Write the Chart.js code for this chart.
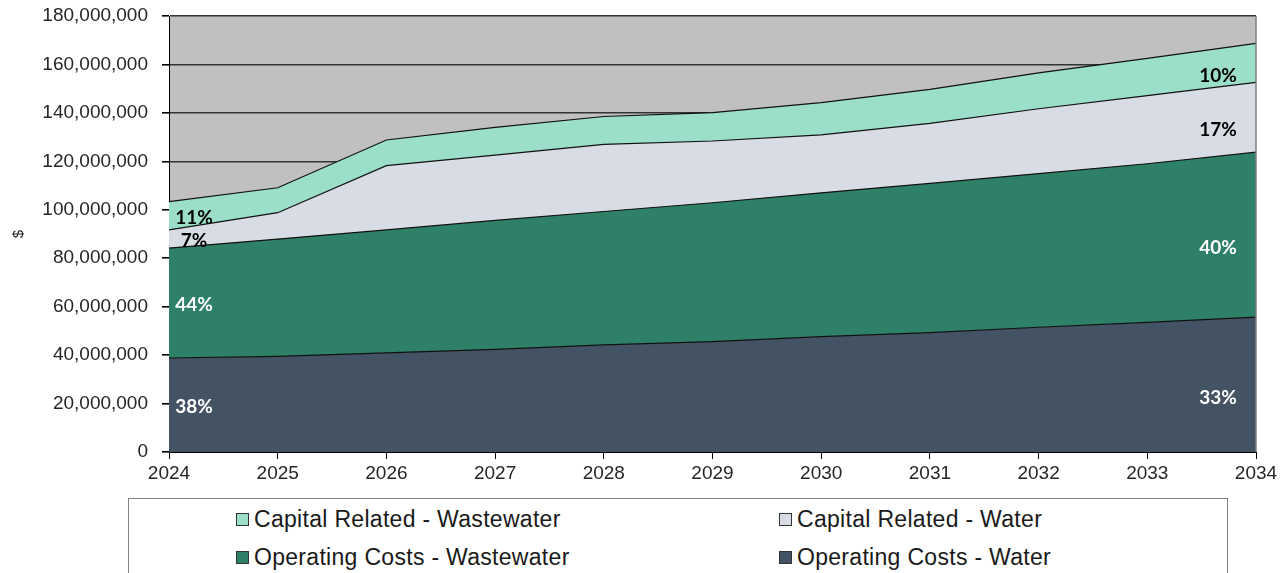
<!DOCTYPE html>
<html>
<head>
<meta charset="utf-8">
<script src="https://cdn.jsdelivr.net/npm/chart.js@4.4.0/dist/chart.umd.min.js"></script>
<style>
  html, body { margin: 0; padding: 0; background: #fff; }
  #wrap { position: relative; width: 1286px; height: 573px; overflow: hidden; }
  #legend {
    position: absolute; left: 128px; top: 498px; width: 1098px; height: 90px;
    border: 1px solid #7f7f7f; background: #fff;
    font-family: 'Liberation Sans', Arial, sans-serif; font-size: 23px; letter-spacing: 0.3px; color: #1a1a1a;
  }
  .item { position: absolute; height: 26px; display: flex; align-items: center; white-space: nowrap; }
  .sw { width: 11px; height: 11px; border: 1px solid #333; margin-right: 5px; }
</style>
</head>
<body>
<div id="wrap">
  <canvas id="costChart" width="1286" height="573"></canvas>
  <div id="legend"></div>
</div>
<script>
const years = ['2024', '2025', '2026', '2027', '2028', '2029', '2030', '2031', '2032', '2033', '2034'];
const opWater = [38800000, 39500000, 40900000, 42400000, 44200000, 45600000, 47600000, 49300000, 51500000, 53500000, 55700000];
const opWastewater = [45400000, 48400000, 50800000, 53200000, 55100000, 57300000, 59400000, 61600000, 63400000, 65500000, 68100000];
const capWater = [7500000, 10900000, 26500000, 27000000, 27700000, 25500000, 23900000, 24800000, 26800000, 28100000, 28800000];
const capWastewater = [11700000, 10300000, 10600000, 11400000, 11500000, 11700000, 13300000, 14000000, 14800000, 15400000, 16100000];
const yTicks = [0, 20000000, 40000000, 60000000, 80000000, 100000000, 120000000, 140000000, 160000000, 180000000];

const series = [
    { label: 'Operating Costs - Water', data: opWater, color: '#435363', text: '#fff' },
    { label: 'Operating Costs - Wastewater', data: opWastewater, color: '#2e8069', text: '#fff' },
    { label: 'Capital Related - Water', data: capWater, color: '#d8dde5', text: '#000' },
    { label: 'Capital Related - Wastewater', data: capWastewater, color: '#9bdeca', text: '#000' }
];

// grey plot area + right border line
const plotBg = {
    id: 'plotBg',
    beforeDraw(chart) {
        const { ctx, chartArea: a } = chart;
        ctx.save();
        ctx.fillStyle = '#c0c0c0';
        ctx.fillRect(a.left, a.top, a.right - a.left, a.bottom - a.top);
        ctx.restore();
    },
    afterDraw(chart) {
        const { ctx, chartArea: a } = chart;
        ctx.save();
        ctx.strokeStyle = '#7f7f7f';
        ctx.lineWidth = 1.5;
        ctx.beginPath();
        ctx.moveTo(a.right, a.top);
        ctx.lineTo(a.right, a.bottom);
        ctx.stroke();
        ctx.restore();
    }
};

// share labels on first and last year
const shareLabels = {
    id: 'shareLabels',
    afterDatasetsDraw(chart) {
        const { ctx, chartArea: a } = chart;
        const n = years.length;
        ctx.save();
        ctx.font = 'bold 19px Lato, "Open Sans", sans-serif';
        ctx.textAlign = 'center';
        ctx.textBaseline = 'middle';
        [[0, 25, 2], [n - 1, -38, 13]].forEach(([i, dx, dy]) => {
            const total = series.reduce((s, d) => s + d.data[i], 0);
            let bottom = a.bottom;
            series.forEach((s, k) => {
                const pt = chart.getDatasetMeta(k).data[i];
                const pct = Math.round(s.data[i] / total * 100) + '%';
                ctx.fillStyle = s.text;
                ctx.fillText(pct, pt.x + dx, (pt.y + bottom) / 2 + dy);
                bottom = pt.y;
            });
        });
        ctx.restore();
    }
};

new Chart(document.getElementById('costChart'), {
    type: 'line',
    data: {
        labels: years,
        datasets: series.map((s, k) => ({
            label: s.label,
            data: s.data,
            backgroundColor: s.color,
            borderColor: '#111',
            borderWidth: 1.2,
            pointRadius: 0,
            tension: 0,
            fill: k === 0 ? 'origin' : '-1'
        }))
    },
    options: {
        responsive: false,
        animation: false,
        layout: { padding: { top: 16, right: 30, bottom: 81, left: 0 } },
        plugins: { legend: { display: false }, tooltip: { enabled: false } },
        scales: {
            x: {
                offset: false,
                grid: { drawOnChartArea: false, drawTicks: true, tickLength: 7, color: '#000' },
                border: { color: '#000', width: 1 },
                ticks: { color: '#262626', font: { family: 'Liberation Sans', size: 19 }, padding: 3, maxRotation: 0 },
                afterFit(scale) { scale.height = 40; scale.paddingRight = 0; scale.paddingLeft = 0; }
            },
            y: {
                stacked: true,
                min: 0,
                max: 180000000,
                afterBuildTicks(scale) { scale.ticks = yTicks.map(v => ({ value: v })); },
                grid: { color: '#333', lineWidth: 1.6, tickLength: 7, tickColor: '#000' },
                border: { color: '#000', width: 1 },
                ticks: {
                    color: '#262626',
                    font: { family: 'Liberation Sans', size: 19 },
                    padding: 14,
                    callback: v => v.toLocaleString('en-US')
                },
                title: {
                    display: true,
                    text: '$',
                    color: '#262626',
                    font: { family: 'Liberation Sans', size: 15 },
                    padding: { top: 10, bottom: 0 }
                },
                afterFit(scale) { scale.width = 169; scale.paddingTop = 0; scale.paddingBottom = 0; }
            }
        }
    },
    plugins: [plotBg, shareLabels]
});

// legend: two columns, two rows
const legendOrder = [
    [series[3], 107, 7], [series[2], 650, 7],
    [series[1], 107, 45], [series[0], 650, 45]
];
const legend = document.getElementById('legend');
legendOrder.forEach(([s, left, top]) => {
    const item = document.createElement('div');
    item.className = 'item';
    item.style.left = left + 'px';
    item.style.top = top + 'px';
    const sw = document.createElement('span');
    sw.className = 'sw';
    sw.style.background = s.color;
    item.appendChild(sw);
    item.appendChild(document.createTextNode(s.label));
    legend.appendChild(item);
});
</script>
</body>
</html>
